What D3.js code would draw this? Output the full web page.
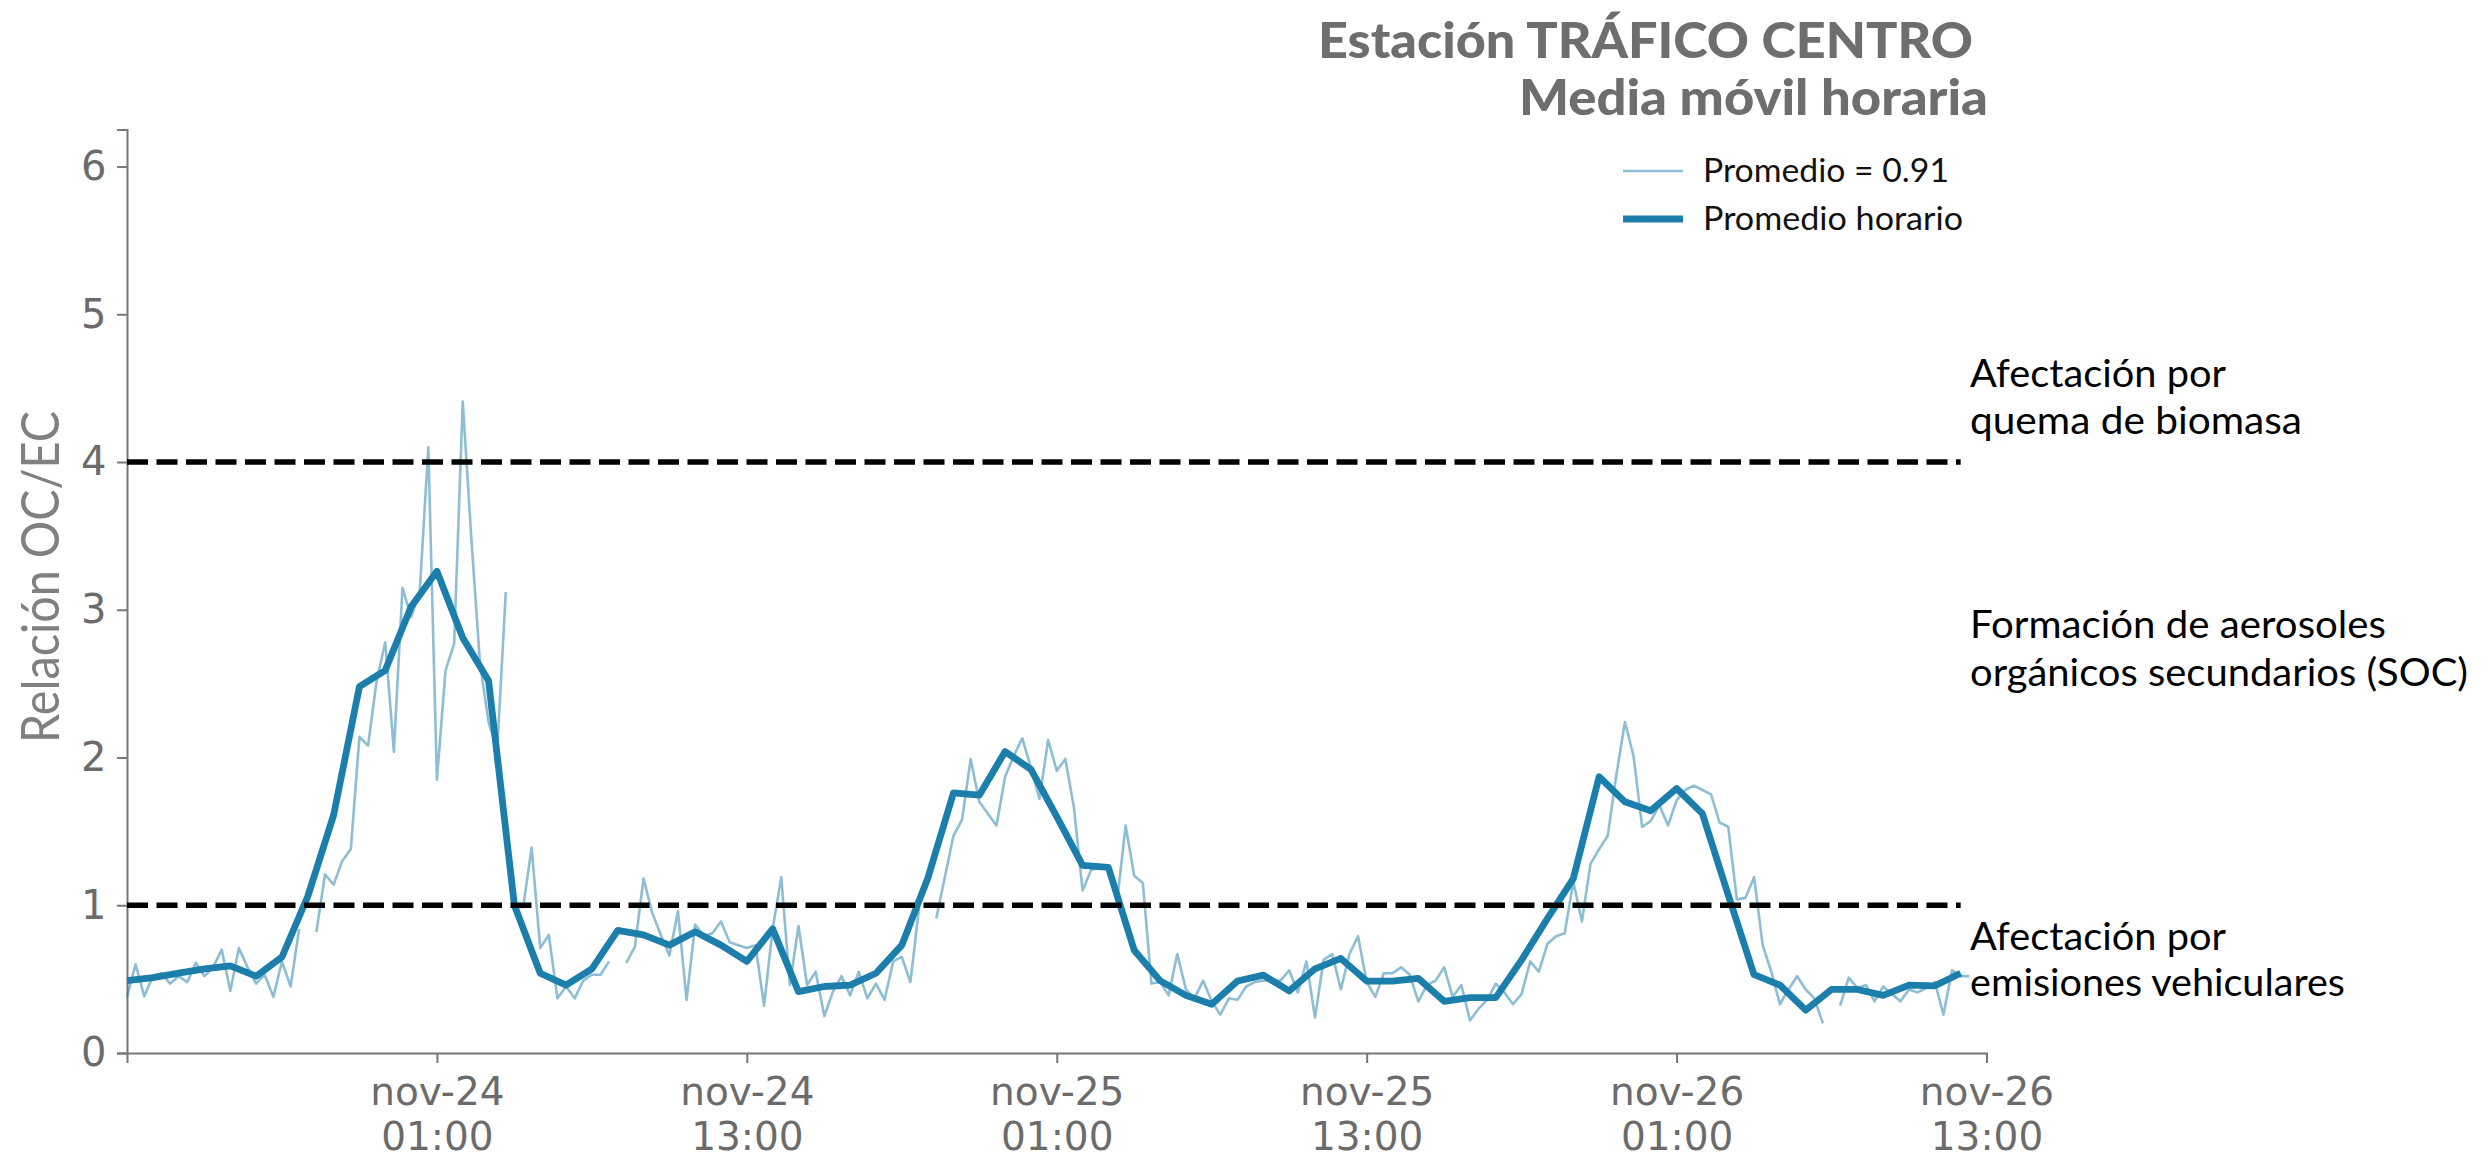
<!DOCTYPE html>
<html>
<head>
<meta charset="utf-8">
<script src="https://cdn.jsdelivr.net/npm/d3@7"></script>
<style>
  html, body { margin: 0; padding: 0; background: #ffffff; }
  svg { display: block; }
</style>
</head>
<body>
<svg id="chart" width="2487" height="1176"></svg>
<script>
// ---------------- DATA ----------------
const seriesStart = "2023-11-23T13:00:00";   // first sample
const subStepMinutes = 20;                   // thin series step
const hourStepMinutes = 60;                  // hourly series step

// 20-minute OC/EC ratio (null = missing sample)
const ratio20min = [
  0.38, 0.60, 0.385, 0.52, 0.54, 0.47, 0.52, 0.48, 0.61, 0.52,
  0.58, 0.70, 0.42, 0.71, 0.58, 0.47, 0.53, 0.38, 0.62, 0.45,
  0.84, null, 0.82, 1.21, 1.14, 1.30, 1.38, 2.14, 2.08, 2.52,
  2.78, 2.04, 3.15, 2.95, 3.12, 4.10, 1.85, 2.59, 2.77, 4.41,
  3.48, 2.64, 2.24, 2.05, 3.12, null, 0.98, 1.39, 0.71, 0.80,
  0.37, 0.45, 0.37, 0.49, 0.53, 0.53, 0.62, null, 0.61, 0.72,
  1.18, 0.95, 0.80, 0.66, 0.96, 0.36, 0.87, 0.79, 0.81, 0.89,
  0.75, 0.73, 0.71, 0.73, 0.32, 0.84, 1.19, 0.46, 0.86, 0.46,
  0.55, 0.25, 0.415, 0.52, 0.39, 0.55, 0.37, 0.47, 0.36, 0.62,
  0.65, 0.48, 0.98, null, 0.91, 1.19, 1.47, 1.58, 1.99, 1.70,
  1.62, 1.54, 1.87, 2.01, 2.13, 1.93, 1.72, 2.12, 1.91, 1.99,
  1.66, 1.10, 1.24, 1.25, 1.26, 1.02, 1.54, 1.20, 1.15, 0.47,
  0.48, 0.39, 0.67, 0.43, 0.37, 0.49, 0.35, 0.26, 0.37, 0.36,
  0.45, 0.48, 0.49, 0.49, 0.49, 0.56, 0.41, 0.62, 0.24, 0.63,
  0.67, 0.43, 0.67, 0.79, 0.48, 0.38, 0.54, 0.54, 0.58, 0.53,
  0.35, 0.46, 0.49, 0.58, 0.38, 0.46, 0.22, 0.30, 0.36, 0.47,
  0.41, 0.33, 0.40, 0.62, 0.55, 0.74, 0.79, 0.81, 1.16, 0.89,
  1.28, 1.38, 1.47, 1.88, 2.24, 2.01, 1.53, 1.57, 1.68, 1.54,
  1.71, 1.78, 1.81, 1.78, 1.75, 1.56, 1.53, 1.04, 1.05, 1.19,
  0.73, 0.55, 0.33, 0.43, 0.52, 0.43, 0.37, 0.20, null, 0.32,
  0.51, 0.44, 0.46, 0.35, 0.45, 0.40, 0.35, 0.43, 0.41, 0.44,
  0.48, 0.26, 0.56, 0.52, 0.52
];

// hourly average
const ratioHourly = [
  0.49, 0.51, 0.54, 0.57, 0.59, 0.52, 0.65, 1.06, 1.61, 2.48,
  2.59, 3.02, 3.26, 2.81, 2.52, 1.00, 0.54, 0.46, 0.57, 0.83,
  0.80, 0.73, 0.82, 0.73, 0.62, 0.84, 0.415, 0.45, 0.46, 0.54,
  0.73, 1.18, 1.76, 1.745, 2.04, 1.92, 1.60, 1.27, 1.256, 0.695,
  0.49, 0.39, 0.33, 0.487, 0.527, 0.42, 0.57, 0.64, 0.487, 0.487,
  0.505, 0.35, 0.375, 0.375, 0.63, 0.91, 1.18, 1.87, 1.70, 1.64,
  1.79, 1.62, 1.07, 0.53, 0.46, 0.29, 0.43, 0.43, 0.39, 0.46,
  0.455, 0.54
];

const thresholds = [4, 1];
const yTickValues = [0, 1, 2, 3, 4, 5, 6];
const xTickTimes = ["2023-11-24T01:00:00", "2023-11-24T13:00:00", "2023-11-25T01:00:00",
                    "2023-11-25T13:00:00", "2023-11-26T01:00:00", "2023-11-26T13:00:00"];
const xTickLabels = [["nov-24", "01:00"], ["nov-24", "13:00"], ["nov-25", "01:00"],
                     ["nov-25", "13:00"], ["nov-26", "01:00"], ["nov-26", "13:00"]];
const xDomainTimes = ["2023-11-23T13:00:00", "2023-11-26T13:00:00"];

const titleLines = ["Estación TRÁFICO CENTRO", "Media móvil horaria"];
const legendLabels = ["Promedio = 0.91", "Promedio horario"];
const yAxisTitle = "Relación OC/EC";
const annotations = [
  ["Afectación por", "quema de biomasa"],
  ["Formación de aerosoles", "orgánicos secundarios (SOC)"],
  ["Afectación por", "emisiones vehiculares"]
];

// ---------------- DRAW ----------------
const svg = d3.select("#chart");
const start = new Date(seriesStart);
const thinData = ratio20min.map((v, i) => ({ t: new Date(start.getTime() + i * subStepMinutes * 60000), v }));
const hourData = ratioHourly.map((v, i) => ({ t: new Date(start.getTime() + i * hourStepMinutes * 60000), v }));

const x = d3.scaleTime()
  .domain(xDomainTimes.map(s => new Date(s)))
  .range([127, 1986.5]);
const y = d3.scaleLinear().domain([0, 6.25]).range([1053, 129.6]);

const blue = "#1c7eaa";
const gray = "#6b6b6b";

// axes
const yAxis = d3.axisLeft(y).tickValues(yTickValues).tickSize(10).tickPadding(10.5).tickFormat(d3.format("d"));
const gy = svg.append("g").attr("transform", "translate(127,0)").call(yAxis);
gy.select(".domain").attr("stroke", "#777").attr("stroke-width", 2);
gy.selectAll(".tick line").attr("stroke", "#777").attr("stroke-width", 2);
gy.selectAll(".tick text").attr("fill", gray).style("font-family", "'DejaVu Sans'").style("font-size", "40px");

const xAxis = d3.axisBottom(x).tickValues(xTickTimes.map(s => new Date(s))).tickSize(10).tickFormat("");
const gx = svg.append("g").attr("transform", "translate(0,1053)").call(xAxis);
gx.select(".domain").attr("stroke", "#777").attr("stroke-width", 2);
gx.selectAll(".tick line").attr("stroke", "#777").attr("stroke-width", 2);
gx.selectAll(".tick text").remove();
gx.selectAll(".tick").each(function(d, i) {
  const t = d3.select(this).append("text")
    .attr("fill", gray)
    .attr("text-anchor", "middle")
    .style("font-family", "'DejaVu Sans'")
    .style("font-size", "39px");
  t.append("tspan").attr("x", 0).attr("y", 52).text(xTickLabels[i][0]);
  t.append("tspan").attr("x", 0).attr("y", 97).text(xTickLabels[i][1]);
});

// y axis title
svg.append("text")
  .attr("transform", "translate(59,577) rotate(-90)")
  .attr("text-anchor", "middle")
  .attr("fill", "#808080")
  .attr("textLength", 332)
  .attr("lengthAdjust", "spacingAndGlyphs")
  .style("font-family", "Lato")
  .style("font-weight", "400")
  .style("font-size", "52px")
  .text(yAxisTitle);

// lines
const line = d3.line()
  .defined(d => d.v !== null)
  .x(d => x(d.t))
  .y(d => y(d.v));

svg.append("path")
  .datum(thinData)
  .attr("d", line)
  .attr("fill", "none")
  .attr("stroke", blue)
  .attr("stroke-opacity", 0.5)
  .attr("stroke-width", 2.6)
  .attr("stroke-linejoin", "round");

svg.append("path")
  .datum(hourData)
  .attr("d", line)
  .attr("fill", "none")
  .attr("stroke", blue)
  .attr("stroke-width", 6.8)
  .attr("stroke-linejoin", "round");

// threshold lines (span the hourly record)
const hx0 = x(hourData[0].t), hx1 = x(hourData[hourData.length - 1].t);
svg.selectAll("line.thr")
  .data(thresholds)
  .enter().append("line")
  .attr("class", "thr")
  .attr("x1", hx0).attr("x2", hx1)
  .attr("y1", d => y(d)).attr("y2", d => y(d))
  .attr("stroke", "#000")
  .attr("stroke-width", 5.5)
  .attr("stroke-dasharray", "21,8.5");

// title
const titleSpecs = [
  { x: 1973, y: 58, len: 655 },
  { x: 1988, y: 115, len: 469 }
];
titleLines.forEach((s, i) => {
  svg.append("text")
    .attr("x", titleSpecs[i].x).attr("y", titleSpecs[i].y)
    .attr("text-anchor", "end")
    .attr("fill", "#6e6e6e")
    .attr("textLength", titleSpecs[i].len)
    .attr("lengthAdjust", "spacingAndGlyphs")
    .style("font-family", "Lato")
    .style("font-weight", "900")
    .style("font-size", "50px")
    .text(s);
});

// legend
const legendSpecs = [
  { y: 171, ty: 182, len: 246, w: 2.6, op: 0.5 },
  { y: 219, ty: 230, len: 260, w: 6.8, op: 1 }
];
legendLabels.forEach((s, i) => {
  const sp = legendSpecs[i];
  svg.append("line")
    .attr("x1", 1623).attr("x2", 1683)
    .attr("y1", sp.y).attr("y2", sp.y)
    .attr("stroke", blue).attr("stroke-opacity", sp.op).attr("stroke-width", sp.w);
  svg.append("text")
    .attr("x", 1703).attr("y", sp.ty)
    .attr("fill", "#111")
    .attr("textLength", sp.len)
    .attr("lengthAdjust", "spacingAndGlyphs")
    .style("font-family", "Lato")
    .style("font-size", "32px")
    .text(s);
});

// annotations
const annBaselines = [[386.7, 433.6], [638, 686], [949.6, 996]];
const annLens = [[256, 332], [416, 498], [256, 375]];
annotations.forEach((pair, i) => {
  pair.forEach((s, j) => {
    svg.append("text")
      .attr("x", 1970).attr("y", annBaselines[i][j])
      .attr("fill", "#000")
      .attr("textLength", annLens[i][j])
      .attr("lengthAdjust", "spacingAndGlyphs")
      .style("font-family", "Lato")
      .style("font-size", "38.5px")
      .text(s);
  });
});
</script>
</body>
</html>
